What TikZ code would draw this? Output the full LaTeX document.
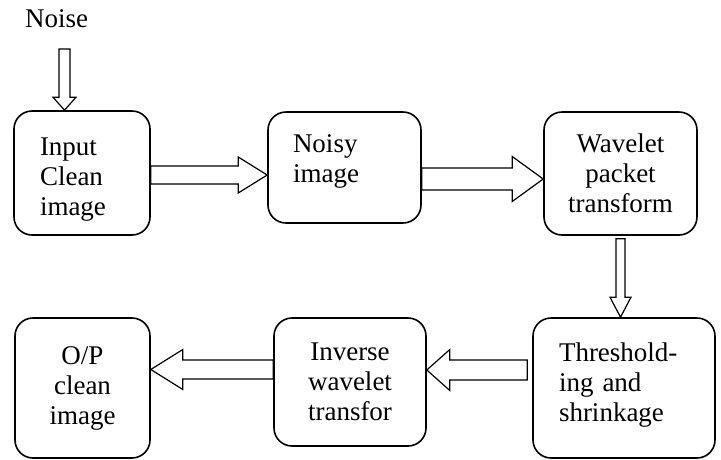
\documentclass[tikz,border=0pt]{standalone}
\usepackage{fontspec}
\setmainfont{Liberation Serif}
\usetikzlibrary{calc}

% Hollow block arrow, horizontal: start, tip, shaft half width, head half width, signed head offset
\newcommand\hblock[5]{%
  \draw[blk] let \p1=(#1), \p2=(#2) in
    (\x1,\y2+#3pt) -- (\x2+#5pt,\y2+#3pt) -- (\x2+#5pt,\y2+#4pt) -- (\x2,\y2)
    -- (\x2+#5pt,\y2-#4pt) -- (\x2+#5pt,\y2-#3pt) -- (\x1,\y2-#3pt) -- cycle;}
% Hollow block arrow, vertical (same arguments)
\newcommand\vblock[5]{%
  \draw[blk] let \p1=(#1), \p2=(#2) in
    (\x2+#3pt,\y1) -- (\x2+#3pt,\y2+#5pt) -- (\x2+#4pt,\y2+#5pt) -- (\x2,\y2)
    -- (\x2-#4pt,\y2+#5pt) -- (\x2-#3pt,\y2+#5pt) -- (\x2-#3pt,\y1) -- cycle;}

\begin{document}
\begin{tikzpicture}[x=1pt,y=-1pt,
  box/.style={draw, line width=1.6pt, rounded corners=18pt,
    font=\fontsize{27}{30}\selectfont, inner ysep=0pt},
  blk/.style={draw, line width=1.2pt, fill=white, line join=miter}]
\path[use as bounding box] (0,0) rectangle (721,459);

% Noise label
\node[anchor=base west, inner sep=0pt, font=\fontsize{27}{30}\selectfont] (noise) at (25,27) {Noise};

% Processing blocks (struts nudge the text block within its box)
\node[box, align=left, inner xsep=26pt, text width=84pt, minimum width=136pt, minimum height=124pt] (b1) at (82,173) {\rule{0pt}{30pt}Input\\Clean\\image};
\node[box, align=left, inner xsep=25pt, text width=103pt, minimum width=153pt, minimum height=111pt] (b2) at (344.5,167.5) {Noisy\\image\rule[-18pt]{0pt}{0pt}};
\node[box, align=center, minimum width=153pt, minimum height=123pt] (b3) at (620.5,173.5) {Wavelet\\packet\\transform};
\node[box, align=left, inner xsep=26pt, text width=130pt, minimum width=182pt, minimum height=140pt] (b6) at (624,388) {Threshold-\\ing and\\shrinkage\rule[-12pt]{0pt}{0pt}};
\node[box, align=center, minimum width=152pt, minimum height=128pt] (b5) at (350,382) {Inverse\\wavelet\\transfor};
\node[box, align=center, minimum width=135pt, minimum height=140pt] (b4) at (82.5,388) {O/P\\clean\\image};

% Free ends of connectors
\coordinate (ntop) at (64.5,49);
\coordinate (c3) at ($(b3.south)+(0,3)$);
\coordinate (c6) at ($(b6.west |- 0,370)+(-5,0)$);

% Connectors
\vblock{ntop}{ntop |- b1.north}{5.5}{11.5}{13}
\hblock{b1.east |- 0,175}{b2.west |- 0,175}{9}{18}{-29}
\hblock{b2.east |- 0,179}{b3.west |- 0,179}{11}{22.5}{-31}
\vblock{c3}{c3 |- b6.north}{4.5}{10.5}{20}
\hblock{c6}{b5.east |- 0,370}{10}{20.5}{23}
\hblock{b5.west |- 0,369.5}{b4.east |- 0,369.5}{9.5}{20}{32}
\end{tikzpicture}
\end{document}
